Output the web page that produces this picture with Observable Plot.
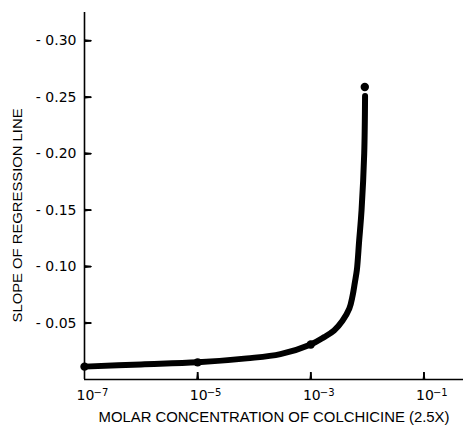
<!DOCTYPE html>
<html><head><meta charset="utf-8">
<script src="https://cdn.jsdelivr.net/npm/d3@7"></script>
<script src="https://cdn.jsdelivr.net/npm/@observablehq/plot@0.6"></script>
<style>body{margin:0;background:#fff}</style>
</head><body><div id="chart"></div>
<script>
// Measured points (molar concentration, slope of regression line)
const pointConc  = [1e-7, 1e-5, 1e-3, 9.0e-3];
const pointSlope = [-0.0114, -0.0152, -0.031, -0.259];
// Hand-drawn smooth curve
const curveConc  = [1e-7, 1e-6, 1e-5, 7.4e-5, 2.9e-4, 1e-3, 1.72e-3, 2.58e-3, 3.63e-3, 4.79e-3, 5.47e-3, 6.01e-3, 6.52e-3, 7.16e-3, 7.89e-3, 8.79e-3, 9.1e-3];
const curveSlope = [-0.0114, -0.0133, -0.0152, -0.0187, -0.0225, -0.031, -0.0375, -0.0434, -0.052, -0.0627, -0.074, -0.086, -0.097, -0.123, -0.150, -0.200, -0.251];
// Axis ticks
const xTicks = [1e-7, 1e-5, 1e-3, 1e-1];
const xTickBase = "10";
const xTickExponents = ["\u22127", "\u22125", "\u22123", "\u22121"];
const yTicks = [-0.05, -0.10, -0.15, -0.20, -0.25, -0.30];
const yTickLabels = ["- 0.05", "- 0.10", "- 0.15", "- 0.20", "- 0.25", "- 0.30"];
const xLabel = "MOLAR CONCENTRATION OF COLCHICINE (2.5X)";
const yLabel = "SLOPE OF REGRESSION LINE";

const points = pointConc.map((c, i) => ({c, s: pointSlope[i]}));
const curve = curveConc.map((c, i) => ({c, s: curveSlope[i]}));

const W = 465, H = 425, mL = 84, mR = 2, mT = 12, mB = 46, tick = 7;

const chart = Plot.plot({
  width: W,
  height: H,
  marginLeft: mL,
  marginRight: mR,
  marginTop: mT,
  marginBottom: mB,
  style: {fontFamily: "'DejaVu Sans', sans-serif", background: "#fff", color: "#000"},
  x: {type: "log", domain: [1e-7, 0.5]},
  y: {domain: [0, -0.325]},
  marks: [
    Plot.ruleX([1e-7], {stroke: "#000", strokeWidth: 1.6}),
    Plot.ruleY([0], {stroke: "#000", strokeWidth: 1.6}),
    // inward tick marks: short rules inset to a stub
    Plot.ruleY(yTicks, {y: (d) => d, insetRight: W - mL - mR - tick, stroke: "#000", strokeWidth: 1.8}),
    Plot.ruleX(xTicks.slice(1), {x: (d) => d, insetTop: H - mT - mB - tick, stroke: "#000", strokeWidth: 1.8}),
    // the same stubs as thin vectors anchored on the axes
    Plot.vector(yTicks, {x: () => xTicks[0], y: (d) => d, length: tick, rotate: 90, anchor: "start", shape: "spike", r: 0.9, stroke: "#000", fill: "#000", strokeWidth: 1}),
    Plot.vector(xTicks.slice(1), {x: (d) => d, y: () => 0, length: tick, rotate: 0, anchor: "start", shape: "spike", r: 0.9, stroke: "#000", fill: "#000", strokeWidth: 1}),
    // tick labels
    Plot.axisY({ticks: yTicks, tickSize: 0, tickPadding: 8, tickFormat: (d) => yTickLabels[yTicks.indexOf(d)], fontSize: 14, label: null}),
    Plot.axisX({ticks: xTicks, tickSize: 0, tickPadding: 11, tickFormat: () => xTickBase, fontSize: 14, dx: 1, label: null}),
    Plot.axisX({ticks: xTicks, tickSize: 0, tickPadding: 9, tickFormat: (d) => xTickExponents[xTicks.indexOf(d)], fontSize: 10, textAnchor: "start", dx: 9, label: null}),
    // data
    Plot.line(curve, {x: "c", y: "s", curve: "catmull-rom", stroke: "#000", strokeWidth: 6}),
    Plot.dot(points, {x: "c", y: "s", r: 4.2, fill: "#000"}),
    // axis titles
    Plot.text([xLabel], {frameAnchor: "bottom", dy: 38, textAnchor: "middle", lineAnchor: "middle", fontSize: 15, fontFamily: "'Liberation Sans', sans-serif", text: (d) => d}),
    Plot.text([yLabel], {frameAnchor: "left", rotate: -90, dx: -66.5, dy: 19.5, textAnchor: "middle", lineAnchor: "middle", fontSize: 13, fontFamily: "'Liberation Sans', sans-serif", text: (d) => d})
  ]
});
document.getElementById("chart").appendChild(chart);

// fit the hand-lettered axis titles to their drawn lengths
chart.querySelectorAll("text").forEach((t) => {
  if (t.textContent === xLabel) { t.setAttribute("textLength", 351); t.setAttribute("lengthAdjust", "spacingAndGlyphs"); }
  if (t.textContent === yLabel) { t.setAttribute("textLength", 214); t.setAttribute("lengthAdjust", "spacingAndGlyphs"); }
});
</script>
</body></html>
